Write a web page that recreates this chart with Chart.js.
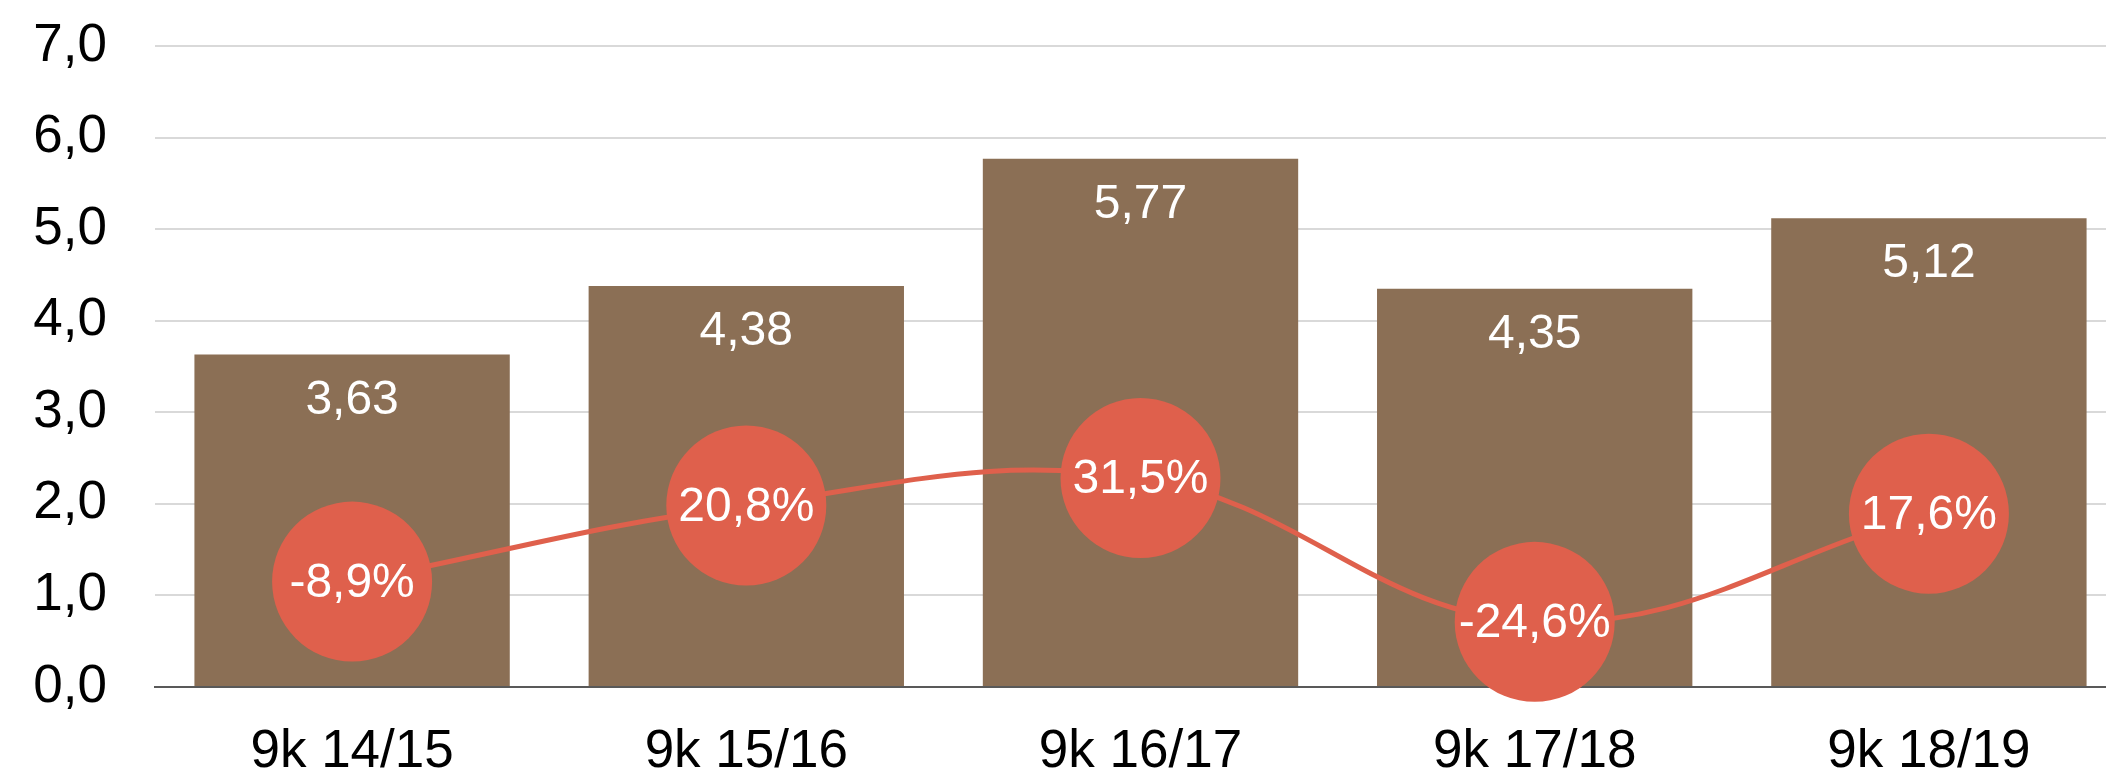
<!DOCTYPE html>
<html>
<head>
<meta charset="utf-8">
<script src="https://cdn.jsdelivr.net/npm/chart.js@4"></script>
<style>
  html, body { margin: 0; padding: 0; background: #fff; overflow: hidden; }
  #wrap { width: 2126px; height: 773px; }
</style>
</head>
<body>
<div id="wrap"><canvas id="chart"></canvas></div>
<script>
const categories = ['9k 14/15', '9k 15/16', '9k 16/17', '9k 17/18', '9k 18/19'];
const values = [3.63, 4.38, 5.77, 4.35, 5.12];
const growth = [-8.9, 20.8, 31.5, -24.6, 17.6];
const yTicks = [0, 1, 2, 3, 4, 5, 6, 7];

const FONT = '"Liberation Sans", Arial, sans-serif';
const BROWN = '#8b6f55';
const RED = '#df604c';

const comma = (v, d) => v.toFixed(d).replace('.', ',');

const labelPlugin = {
    id: 'labels',
    afterDatasetsDraw(chart) {
        const ctx = chart.ctx;
        ctx.save();
        ctx.fillStyle = '#fff';
        ctx.font = '48px ' + FONT;
        ctx.textAlign = 'center';
        ctx.textBaseline = 'middle';
        chart.getDatasetMeta(1).data.forEach((bar, i) => {
            ctx.fillText(comma(values[i], 2), bar.x, bar.y + 46);
        });
        chart.getDatasetMeta(0).data.forEach((pt, i) => {
            ctx.fillText(comma(growth[i], 1) + '%', pt.x, pt.y + 2);
        });
        ctx.restore();
    },
};

new Chart(document.getElementById('chart'), {
    data: {
        labels: categories,
        datasets: [
            {
                type: 'line',
                data: growth,
                yAxisID: 'y2',
                order: 0,
                borderColor: RED,
                borderWidth: 5,
                tension: 0.4,
                pointRadius: 80,
                pointBackgroundColor: RED,
                pointBorderWidth: 0,
                clip: false,
            },
            {
                type: 'bar',
                data: values,
                yAxisID: 'y',
                order: 1,
                backgroundColor: BROWN,
                barPercentage: 0.8,
                categoryPercentage: 1,
            },
        ],
    },
    options: {
        responsive: true,
        maintainAspectRatio: false,
        animation: false,
        layout: { autoPadding: false, padding: { top: 46, left: 31, right: 0, bottom: 0 } },
        plugins: { legend: { display: false }, tooltip: { enabled: false } },
        scales: {
            x: {
                grid: { display: false, drawTicks: false },
                border: { color: '#595959', width: 2 },
                ticks: { color: '#000', font: { family: FONT, size: 53 }, padding: 34 },
                afterFit: (axis) => { axis.height = 86; },
            },
            y: {
                min: 0,
                max: 7,
                afterBuildTicks: (axis) => { axis.ticks = yTicks.map(v => ({ value: v })); },
                grid: { color: '#d9d9d9', lineWidth: 2, drawTicks: false },
                border: { display: false },
                ticks: {
                    color: '#000',
                    font: { family: FONT, size: 53 },
                    padding: 48,
                    callback: (v) => comma(v, 1),
                },
                afterFit: (axis) => {
                    axis.width = 124;
                    axis.paddingTop = 0;
                    axis.paddingBottom = 0;
                },
            },
            y2: {
                display: false,
                min: -50,
                max: 200,
            },
        },
    },
    plugins: [labelPlugin],
});
</script>
</body>
</html>
